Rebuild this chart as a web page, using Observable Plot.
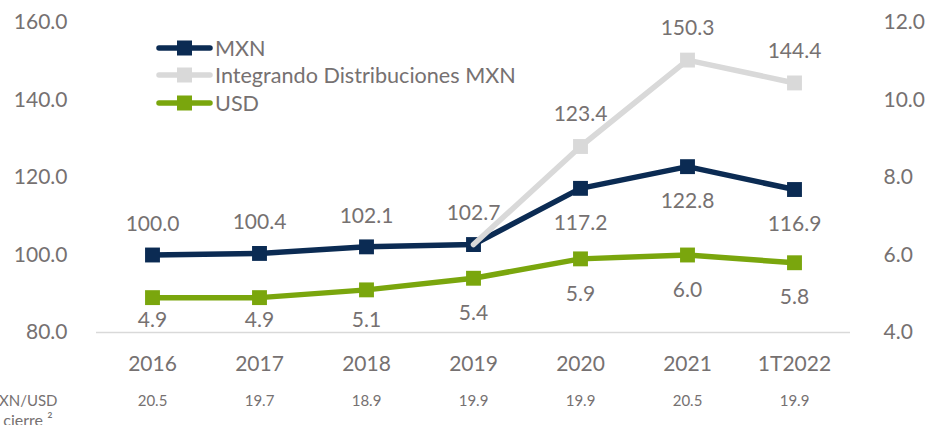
<!DOCTYPE html>
<html><head><meta charset="utf-8">
<script src="https://cdn.jsdelivr.net/npm/d3@7"></script>
<script src="https://cdn.jsdelivr.net/npm/@observablehq/plot@0.6"></script>
<style>
body{margin:0;background:#fff;font-family:Lato,sans-serif}
#wrap{position:relative;width:928px;height:425px;overflow:hidden}
.legend{position:absolute;left:155px;top:34px;color:#767171;font-size:21.6px;font-family:Lato,sans-serif}
.legend .row{display:flex;align-items:center;height:27.5px;white-space:nowrap}
.legend svg{margin-right:2px}
</style></head>
<body><div id="wrap"></div>
<script>
// ---- data ----
const years = ["2016","2017","2018","2019","2020","2021","1T2022"];
const mxn   = [100.0,100.4,102.1,102.7,117.2,122.8,116.9];
const usd   = [4.9,4.9,5.1,5.4,5.9,6.0,5.8];
const fxRate = [20.5,19.7,18.9,19.9,19.9,20.5,19.9];
const integYears  = ["2019","2020","2021","1T2022"];
const integValues = [102.7,128.0,150.3,144.4];          // plotted positions as drawn
const integLabels = ["102.7","123.4","150.3","144.4"];  // printed labels
const leftTicks  = [80,100,120,140,160];
const rightTicks = [4,6,8,10,12];
const seriesNames = ["MXN","Integrando Distribuciones MXN","USD"];
const colors = ["#0B2B53","#D9D9D9","#7AA60D"];
const rowLabelLines = ["MXN/USD","de cierre ²"];

// ---- build ----
const toLeft = u => 80 + (u - 4) * 10;      // right axis (4–12) onto left (80–160)
const fromLeft = v => (v - 80) / 10 + 4;
const rows = years.map((y, i) => ({year: y, mxn: mxn[i], usd: usd[i], usdL: toLeft(usd[i]), i}));
const integ = integYears.map((y, i) => ({year: y, value: integValues[i], label: integLabels[i], i}));
const txt = "#767171";
const [navy, grey, green] = colors;

const chart = Plot.plot({
  width: 928, height: 425,
  marginTop: 22, marginBottom: 93, marginLeft: 96, marginRight: 78,
  style: {fontFamily: "Lato, sans-serif", color: txt, background: "transparent"},
  x: {type: "point", domain: years, padding: 0.5},
  y: {domain: [80, 160]},
  marks: [
    Plot.ruleY([80], {stroke: "#D9D9D9", strokeWidth: 1.5}),
    Plot.axisY(leftTicks, {anchor: "left", tickSize: 0, tickPadding: 29, fontSize: 21, tickFormat: d => d.toFixed(1), label: null}),
    Plot.axisY(rightTicks.map(toLeft), {anchor: "right", tickSize: 0, tickPadding: 33, fontSize: 21, tickFormat: d => fromLeft(d).toFixed(1), label: null}),
    Plot.axisX({tickSize: 0, tickPadding: 24, fontSize: 21, label: null}),
    Plot.axisX({tickSize: 0, tickPadding: 63, fontSize: 15, tickFormat: d => fxRate[years.indexOf(d)].toFixed(1), label: null}),
    Plot.text([rowLabelLines[0]], {frameAnchor: "bottom-left", text: d => d, textAnchor: "end", lineAnchor: "middle", dx: -39, dy: 69, fontSize: 15, fill: txt}),
    Plot.text([rowLabelLines[1]], {frameAnchor: "bottom-left", text: d => d, textAnchor: "end", lineAnchor: "middle", dx: -44, dy: 88, fontSize: 16, fill: txt}),
    // MXN
    Plot.line(rows, {x: "year", y: "mxn", stroke: navy, strokeWidth: 5.5, strokeLinejoin: "round", strokeLinecap: "round"}),
    Plot.dot(rows, {x: "year", y: "mxn", symbol: "square", r: 8.4, fill: navy}),
    // Integrando
    Plot.line(integ, {x: "year", y: "value", stroke: grey, strokeWidth: 5.5, strokeLinejoin: "round", strokeLinecap: "round"}),
    Plot.dot(integ.filter(d => d.i > 0), {x: "year", y: "value", symbol: "square", r: 8.4, fill: grey}),
    // USD
    Plot.line(rows, {x: "year", y: "usdL", stroke: green, strokeWidth: 5.5, strokeLinejoin: "round", strokeLinecap: "round"}),
    Plot.dot(rows, {x: "year", y: "usdL", symbol: "square", r: 8.4, fill: green}),
    // labels
    Plot.text(rows.filter(d => d.i < 4), {x: "year", y: "mxn", text: d => d.mxn.toFixed(1), dy: -31, fontSize: 21, fill: txt}),
    Plot.text(rows.filter(d => d.i >= 4), {x: "year", y: "mxn", text: d => d.mxn.toFixed(1), dy: 35, fontSize: 21, fill: txt}),
    Plot.text(integ.filter(d => d.i > 0), {x: "year", y: "value", text: "label", dy: -32, fontSize: 21, fill: txt}),
    Plot.text(rows, {x: "year", y: d => Math.max(d.usdL, 92.1), text: d => d.usd.toFixed(1), dy: 35, fontSize: 21, fill: txt})
  ]
});

const wrap = document.getElementById("wrap");
wrap.appendChild(chart);

// legend inside plot area
const legend = document.createElement("div");
legend.className = "legend";
seriesNames.forEach((name, k) => {
  const row = document.createElement("div");
  row.className = "row";
  row.innerHTML = `<svg width="58" height="20"><line x1="4" y1="10" x2="55" y2="10" stroke="${colors[k]}" stroke-width="5.5" stroke-linecap="round"/><rect x="22" y="2.5" width="15" height="15" fill="${colors[k]}"/></svg><span>${name}</span>`;
  legend.appendChild(row);
});
wrap.appendChild(legend);
</script>
</body></html>
